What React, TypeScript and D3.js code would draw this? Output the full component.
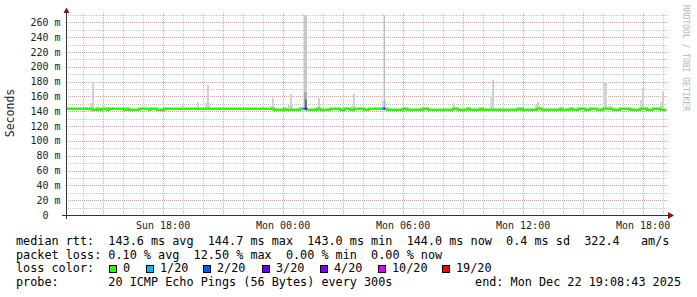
import React from "react";
import * as d3 from "d3";

const START = new Date(2025, 11, 21, 13, 8, 43);
const END = new Date(2025, 11, 22, 19, 8, 43);
const DATA_END_HOURS = 29.95;

const yTicks = [0, 20, 40, 60, 80, 100, 120, 140, 160, 180, 200, 220, 240, 260];
const yTickLabels = ["0  ", "20 m", "40 m", "60 m", "80 m", "100 m", "120 m", "140 m", "160 m", "180 m", "200 m", "220 m", "240 m", "260 m"];
const yMinorTicks = [10, 30, 50, 70, 90, 110, 130, 150, 170, 190, 210, 230, 250, 270];

const medianBase = 143.4;
const medianDip = 142.2;
// [startHour, endHour] offsets from START where median dips
const medianDips: [number, number][] = [
  [1.3, 1.55], [1.65, 1.8], [2.05, 2.15], [2.9, 3.05], [3.15, 3.65], [4.15, 4.2], [4.55, 4.9],
  [10.4, 10.9], [10.95, 11.7], [12.05, 12.55], [12.7, 13.2], [13.7, 13.95], [14.2, 14.4], [14.9, 15.15],
  [16.05, 16.85], [17.05, 17.85], [18.1, 19.35], [19.6, 20.05], [20.2, 20.7], [20.85, 22.6],
  [22.8, 23.55], [23.8, 24.7], [24.8, 25.2], [25.35, 25.6], [25.95, 26.2], [26.55, 26.85],
  [27.35, 27.7], [28.2, 28.7], [29.05, 29.35], [29.7, 29.95],
];
// [startHour, endHour, lossIndex]
const lossSegments: [number, number, number][] = [
  [11.8, 11.925, 1], [11.925, 12.05, 3], [15.8, 15.875, 1], [15.875, 15.95, 3],
];
// smoke: [startHour, endHour, low ms, high ms, shade]
const smoke: [number, number, number, number, string][] = [
  [1.2, 1.4, 142, 151, "#d4d4d4"], [1.3, 1.4, 142, 180, "#d4d4d4"],
  [1.85, 1.95, 142, 147, "#d8d8d8"], [2.3, 2.35, 142, 146, "#d8d8d8"],
  [5.8, 5.9, 142, 150, "#d8d8d8"], [6.55, 6.65, 142, 152, "#d8d8d8"],
  [6.95, 7.2, 142, 151, "#d8d8d8"], [7.05, 7.15, 142, 175, "#d0d0d0"],
  [10.2, 10.4, 142, 147, "#d8d8d8"], [10.3, 10.4, 142, 158, "#d0d0d0"],
  [11.1, 11.35, 142, 148, "#d8d8d8"], [11.2, 11.3, 142, 163, "#d0d0d0"],
  [11.9, 12.05, 142, 275, "#c8c8c8"], [11.9, 12.05, 142, 166, "#a8a8a8"], [11.95, 12.05, 142, 155, "#707070"],
  [12.4, 12.7, 142, 145, "#d8d8d8"], [12.6, 12.7, 142, 158, "#d0d0d0"],
  [14.25, 14.45, 142, 147, "#d8d8d8"], [14.35, 14.45, 142, 163, "#d0d0d0"],
  [15.8, 16.0, 142, 154, "#d0d0d0"], [15.9, 15.95, 142, 275, "#b8b8b8"],
  [17.65, 17.75, 142, 145, "#d8d8d8"], [19.35, 19.45, 142, 151, "#d8d8d8"],
  [21.2, 21.4, 142, 159, "#d8d8d8"], [21.3, 21.4, 142, 182, "#d0d0d0"],
  [23.45, 23.7, 142, 148, "#d8d8d8"], [23.55, 23.65, 142, 152, "#d0d0d0"],
  [26.9, 27.05, 142, 180, "#d4d4d4"], [27.15, 27.25, 142, 147, "#d8d8d8"],
  [28.7, 28.9, 142, 155, "#d8d8d8"], [28.8, 28.9, 142, 171, "#d0d0d0"],
  [29.7, 29.9, 142, 152, "#d8d8d8"], [29.8, 29.9, 142, 166, "#d0d0d0"],
];

const lossColors = ["#26ff00", "#00b8ff", "#0059ff", "#5e00ff", "#7e00ff", "#dd00ff", "#ff0000"];
const lossLabels = ["0", "1/20", "2/20", "3/20", "4/20", "10/20", "19/20"];
const lossBoxX = [109, 146, 203, 262, 320, 378, 442];

const legendLines = [
  "median rtt:  143.6 ms avg  144.7 ms max  143.0 ms min  144.0 ms now  0.4 ms sd  322.4   am/s",
  "packet loss: 0.10 % avg  12.50 % max  0.00 % min  0.00 % now",
  "loss color:",
  "probe:       20 ICMP Echo Pings (56 Bytes) every 300s",
];
const endLabel = "end: Mon Dec 22 19:08:43 2025";

const W = 697, H = 297;
const L = 66, R = 666, T = 15, B = 215;
const MONO = "'DejaVu Sans Mono', monospace";

export default function App() {
  const x = d3.scaleTime().domain([START, END]).range([L, R]);
  const y = d3.scaleLinear().domain([0, 270]).range([B, T]);
  const hx = (h: number) => x(new Date(START.getTime() + h * 3600000));

  const hours = d3.timeHour.every(1)!.range(START, END);
  const px = (v: number) => Math.round(v) + 0.5;

  const pts: [number, number][] = [[0, medianBase]];
  medianDips.forEach(([a, b]) => { pts.push([a, medianDip]); pts.push([b, medianBase]); });
  pts.push([DATA_END_HOURS, medianBase]);
  const line = d3.line<[number, number]>().x(d => hx(d[0])).y(d => y(d[1])).curve(d3.curveStepAfter);
  const fmt = d3.timeFormat("%a %H:%M");

  return (
    <svg width={W} height={H} style={{ position: "fixed", left: 0, top: 0, background: "#fff" }}>
      <rect x={0} y={0} width={W} height={H} fill="#fff" />
      {/* horizontal grid */}
      {yMinorTicks.map(v => (
        <line key={"hm" + v} x1={L} x2={R + 2} y1={px(y(v))} y2={px(y(v))} stroke="#c4c4c4" strokeDasharray="1,1" shapeRendering="crispEdges" />
      ))}
      {yTicks.filter(v => v > 0).map(v => (
        <line key={"hM" + v} x1={L} x2={R + 2} y1={px(y(v))} y2={px(y(v))} stroke="#e2a2a2" strokeDasharray="1,1" shapeRendering="crispEdges" />
      ))}
      {/* vertical grid */}
      {hours.map(h => {
        const major = h.getHours() % 3 === 0;
        return (
          <line key={"v" + h.getTime()} x1={px(x(h))} x2={px(x(h))} y1={T - 2} y2={B} stroke={major ? "#e2a2a2" : "#c4c4c4"} strokeDasharray="1,1" shapeRendering="crispEdges" />
        );
      })}
      {/* smoke */}
      {smoke.map(([a, b, lo, hi, c], i) => (
        <rect key={"s" + i} x={hx(a)} width={hx(b) - hx(a)} y={Math.max(y(hi), T)} height={y(lo) - Math.max(y(hi), T)} fill={c} shapeRendering="crispEdges" />
      ))}
      {/* median line */}
      <path d={line(pts) || ""} fill="none" stroke={lossColors[0]} strokeWidth={2.5} />
      {lossSegments.map(([a, b, li], i) => (
        <line key={"l" + i} x1={hx(a)} x2={hx(b)} y1={y(medianBase)} y2={y(medianBase)} stroke={lossColors[li]} strokeWidth={2.5} />
      ))}
      {/* axes */}
      <line x1={px(L)} x2={px(L)} y1={11} y2={B + 4} stroke="#333" shapeRendering="crispEdges" />
      <line x1={L - 4} x2={R + 4} y1={px(B)} y2={px(B)} stroke="#333" shapeRendering="crispEdges" />
      <path d={`M${L - 2.5},13 L${L + 0.5},7.5 L${L + 3.5},13 Z`} fill="#8b1010" />
      <path d={`M${R + 2},212 L${R + 8},215.5 L${R + 2},219 Z`} fill="#8b1010" />
      {/* y tick labels */}
      {yTicks.map((v, i) => (
        <text key={"yt" + v} x={60.5} y={y(v) + 3.5} textAnchor="end" fontFamily={MONO} fontSize={10} fill="#222" style={{ whiteSpace: "pre" }}>{yTickLabels[i]}</text>
      ))}
      {/* x tick labels */}
      {hours.filter(h => h.getHours() % 6 === 0).map(h => (
        <text key={"xt" + h.getTime()} x={x(h)} y={228.5} textAnchor="middle" fontFamily={MONO} fontSize={10} fill="#222">{fmt(h)}</text>
      ))}
      {/* titles */}
      <text transform="translate(14,113) rotate(-90)" textAnchor="middle" fontFamily={MONO} fontSize={11.5} fill="#222">Seconds</text>
      <text transform="translate(683,5) rotate(90)" textAnchor="start" fontFamily={MONO} fontSize={8} fill="#b4b4b4">RRDTOOL / TOBI OETIKER</text>
      {/* legend */}
      {legendLines.map((s, i) => (
        <text key={"lg" + i} x={16} y={245 + i * 13.67} fontFamily={MONO} fontSize={11.8} fill="#000" style={{ whiteSpace: "pre" }}>{s}</text>
      ))}
      {lossLabels.map((lab, i) => (
        <g key={"lb" + i}>
          <rect x={lossBoxX[i] + 0.5} y={265.5} width={7} height={7} fill={lossColors[i]} stroke="#000" shapeRendering="crispEdges" />
          <text x={lossBoxX[i] + 14} y={245 + 2 * 13.67} fontFamily={MONO} fontSize={11.8} fill="#000">{lab}</text>
        </g>
      ))}
      <text x={681} y={245 + 3 * 13.67} textAnchor="end" fontFamily={MONO} fontSize={11.8} fill="#000" style={{ whiteSpace: "pre" }}>{endLabel}</text>
    </svg>
  );
}
